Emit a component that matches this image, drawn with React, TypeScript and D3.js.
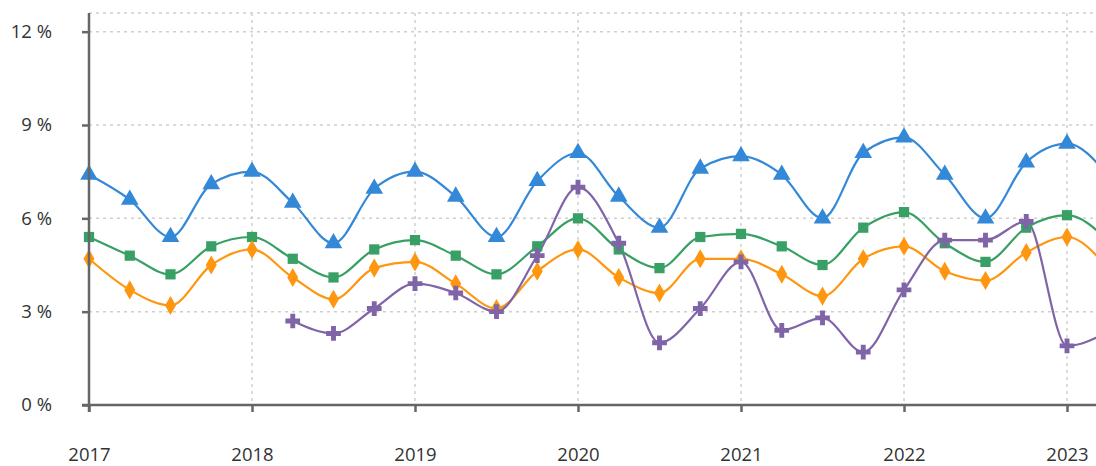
import {useEffect, useRef} from "react";
import * as d3 from "d3";

// quarterly observations, 2017 Q1 .. 2023 Q2
const quarters = [
    "2017-Q1", "2017-Q2", "2017-Q3", "2017-Q4",
    "2018-Q1", "2018-Q2", "2018-Q3", "2018-Q4",
    "2019-Q1", "2019-Q2", "2019-Q3", "2019-Q4",
    "2020-Q1", "2020-Q2", "2020-Q3", "2020-Q4",
    "2021-Q1", "2021-Q2", "2021-Q3", "2021-Q4",
    "2022-Q1", "2022-Q2", "2022-Q3", "2022-Q4",
    "2023-Q1", "2023-Q2",
]

const blueValues = [
    7.4, 6.6, 5.4, 7.1, 7.5, 6.5, 5.2, 6.95, 7.5, 6.7, 5.4, 7.2,
    8.1, 6.7, 5.7, 7.6, 8.0, 7.4, 6.0, 8.1, 8.6, 7.4, 6.0, 7.8, 8.4, 7.4,
]
const greenValues = [
    5.4, 4.8, 4.2, 5.1, 5.4, 4.7, 4.1, 5.0, 5.3, 4.8, 4.2, 5.1,
    6.0, 5.0, 4.4, 5.4, 5.5, 5.1, 4.5, 5.7, 6.2, 5.2, 4.6, 5.7, 6.1, 5.3,
]
const orangeValues = [
    4.7, 3.7, 3.2, 4.5, 5.0, 4.1, 3.4, 4.4, 4.6, 3.9, 3.1, 4.3,
    5.0, 4.1, 3.6, 4.7, 4.7, 4.2, 3.5, 4.7, 5.1, 4.3, 4.0, 4.9, 5.4, 4.4,
]
const purpleValues = [
    null, null, null, null, null, 2.7, 2.3, 3.1, 3.9, 3.6, 3.0, 4.8,
    7.0, 5.2, 2.0, 3.1, 4.6, 2.4, 2.8, 1.7, 3.7, 5.3, 5.3, 5.9, 1.9, 2.35,
]

const yTicks = [0, 3, 6, 9, 12]
const xTicks = [2017, 2018, 2019, 2020, 2021, 2022, 2023]

const width = 1096, height = 466

function toYear(q) {
    const [y, qq] = q.split("-Q")
    return +y + (+qq - 1) / 4
}

function App() {
    const ref = useRef(null)

    useEffect(() => {
        const svg = d3.select(ref.current)
        svg.selectAll("*").remove()

        const margin = {top: 13, left: 89, bottom: 61}
        const x = d3.scaleLinear().domain([2017, 2023 + 29 / 163]).range([margin.left, width])
        const y = d3.scaleLinear().domain([0, 12.6]).range([height - margin.bottom, margin.top])

        const series = [
            {values: blueValues, color: "#3388d8", symbol: d3.symbolTriangle, size: 135},
            {values: greenValues, color: "#38a064", symbol: d3.symbolSquare, size: 105},
            {values: orangeValues, color: "#ff9610", symbol: d3.symbolDiamond, size: 105},
            {values: purpleValues, color: "#8064a8", symbol: d3.symbolCross, size: 120},
        ]

        // dotted grid
        const grid = svg.append("g")
            .attr("stroke", "#cfcfcf")
            .attr("stroke-width", 1.5)
            .attr("stroke-dasharray", "3,4")
        grid.selectAll("line.h")
            .data(yTicks.filter(d => d > 0).concat([12.6]))
            .enter().append("line")
            .attr("x1", margin.left).attr("x2", width)
            .attr("y1", d => y(d)).attr("y2", d => y(d))
        grid.selectAll("line.v")
            .data(xTicks.slice(1))
            .enter().append("line")
            .attr("x1", d => x(d)).attr("x2", d => x(d))
            .attr("y1", y(12.6)).attr("y2", y(0))

        // series lines
        series.forEach(s => {
            const pts = quarters.map((q, i) => ({t: toYear(q), v: s.values[i]}))
            const line = d3.line()
                .defined(d => d.v !== null)
                .x(d => x(d.t))
                .y(d => y(d.v))
                .curve(d3.curveMonotoneX)
            svg.append("path")
                .datum(pts)
                .attr("d", line)
                .attr("fill", "none")
                .attr("stroke", s.color)
                .attr("stroke-width", 2.2)
        })

        // markers
        series.forEach(s => {
            const pts = quarters.map((q, i) => ({t: toYear(q), v: s.values[i]}))
                .filter(d => d.v !== null)
            svg.append("g").selectAll("path")
                .data(pts)
                .enter().append("path")
                .attr("transform", d => "translate(" + x(d.t) + "," + y(d.v) + ")")
                .attr("d", d3.symbol().type(s.symbol).size(s.size))
                .attr("fill", s.color)
        })

        // axes
        const yAxis = svg.append("g")
            .attr("transform", "translate(" + margin.left + ",0)")
            .call(d3.axisLeft(y).tickValues(yTicks).tickSize(7).tickPadding(30).tickFormat(d => d + " %"))
        yAxis.select(".domain").remove()
        yAxis.append("line")
            .attr("x1", 0).attr("x2", 0)
            .attr("y1", y(12.6)).attr("y2", y(0) + 7)

        const xAxis = svg.append("g")
            .attr("transform", "translate(0," + y(0) + ")")
            .call(d3.axisBottom(x).tickValues(xTicks).tickSize(7).tickPadding(36).tickFormat(d3.format("d")))
        xAxis.select(".domain").remove()
        xAxis.append("line")
            .attr("x1", margin.left - 7).attr("x2", width)
            .attr("y1", 0).attr("y2", 0)

        yAxis.selectAll("line").attr("stroke", "#666").attr("stroke-width", 2.5)
        xAxis.selectAll("line").attr("stroke", "#666").attr("stroke-width", 2.5)
        svg.selectAll(".tick text")
            .attr("fill", "#333")
            .attr("font-family", "'Open Sans', sans-serif")
            .attr("font-size", 18.5)
    }, [])

    return (
        <svg ref={ref} width={width} height={height}
             style={{position: "absolute", left: 0, top: 0, background: "#fff"}} />
    )
}

export default App;
